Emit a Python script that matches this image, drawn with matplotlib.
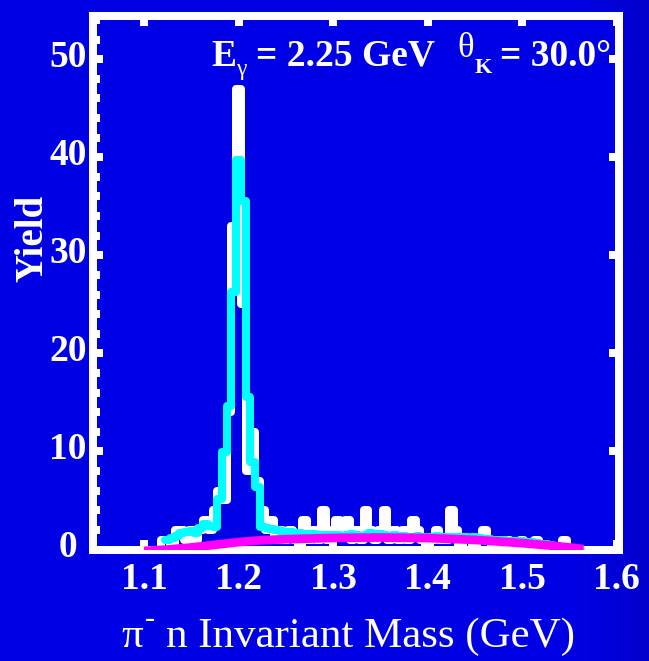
import numpy as np
import matplotlib.pyplot as plt
from matplotlib.ticker import MultipleLocator
from matplotlib.transforms import ScaledTranslation

W, H, DPI = 649, 661, 100

# measured pi- n spectrum, 5 MeV bins starting at 1.1025 GeV
bin_lo = 1.1025
bin_width = 0.005
data_counts = [
    0, 0, 0, 1, 1, 0, 2, 2, 1, 2,        # 1.105 - 1.150
    1, 2, 3, 2, 4, 6, 5, 14, 33, 47,     # 1.155 - 1.200
    25, 8, 12, 7, 4, 2, 3, 1, 2, 1,      # 1.205 - 1.250
    2, 1, 0, 3, 1, 2, 1, 4, 1, 2,        # 1.255 - 1.300
    3, 2, 3, 1, 2, 1, 4, 2, 1, 2,        # 1.305 - 1.350
    4, 1, 2, 1, 2, 1, 3, 2, 1, 0,        # 1.355 - 1.400
    1, 2, 1, 1, 4, 2, 0, 1, 1, 0,        # 1.405 - 1.450
    1, 2, 1, 0, 1, 0, 1, 0, 0, 1,        # 1.455 - 1.500
    0, 0, 1, 0, 0, 0, 0, 0, 1, 0,        # 1.505 - 1.550
    0, 0, 0, 0, 0,                       # 1.555 - 1.575
]

# simulated sigma0 + background, same binning, starting at 1.1225 GeV
fit_lo = 1.1225
fit_total = [
    1.0, 1.2, 1.4, 1.7, 1.8, 1.9, 1.7, 2.2, 2.6, 2.4,      # 1.125 - 1.170
    2.3, 5.1, 9.9, 14.6, 26.3, 39.7, 35.5, 15.6, 8.9, 6.4,  # 1.175 - 1.220
    2.3, 2.2, 2.1, 2.0, 1.9, 1.8, 1.8, 1.7, 1.7, 1.6,      # 1.225 - 1.270
    1.6, 1.6, 1.5, 1.5, 1.5, 1.5, 1.5, 1.4, 1.5, 1.6,      # 1.275 - 1.320
    1.5, 1.4, 1.5, 1.7, 1.6, 1.6, 1.5, 1.4, 1.5, 1.4,      # 1.325 - 1.370
    1.4, 1.3, 1.3, 1.4, 1.3, 1.3, 1.3, 1.4, 1.3, 1.3,      # 1.375 - 1.420
    1.3, 1.3, 1.3, 1.3, 1.2, 1.3, 1.2, 1.1, 1.1, 1.0,      # 1.425 - 1.470
    1.0, 1.0, 0.9, 0.9, 0.9, 0.9, 0.8, 0.8, 0.7, 0.6,      # 1.475 - 1.520
    0.6, 0.5, 0.4, 0.3, 0.3, 0.2, 0.1, 0.0,                # 1.525 - 1.560
]

# smooth phase-space background
bg_mass = [1.100, 1.125, 1.150, 1.175, 1.200, 1.225, 1.250, 1.300,
           1.350, 1.400, 1.450, 1.500, 1.535, 1.565]
bg_yield = [-0.15, 0.0, 0.2, 0.48, 0.75, 0.95, 1.05, 1.18,
            1.22, 1.17, 0.98, 0.65, 0.36, 0.05]

x_ticks = [1.1, 1.2, 1.3, 1.4, 1.5, 1.6]
y_ticks = [0, 10, 20, 30, 40, 50]

LW = 5.76  # 8 px at 100 dpi
serif = 'Liberation Serif'
blue = '#0000e6'


def ftext(x, y, s, **kw):
    return fig.text(x / W, 1 - y / H, s, color='white', family=serif, **kw)


fig = plt.figure(figsize=(W / DPI, H / DPI), dpi=DPI)

# blue backdrop, darker along the right margin
back = fig.add_axes([0, 0, 1, 1], zorder=-10)
shade = np.clip((np.linspace(0, 1, 649) - 0.88) / 0.12, 0, 1)
rgb = np.zeros((2, 649, 3))
rgb[..., 2] = (0.90 - 0.10 * shade)[None, :]
back.imshow(rgb, aspect='auto', extent=[0, 1, 0, 1])
back.set_axis_off()

ax = fig.add_axes([93 / W, 1 - 549.5 / H, (619 - 93) / W, (549.5 - 16) / H])
ax.set_facecolor(blue)

edges = bin_lo + bin_width * np.arange(len(data_counts) + 1)
fit_edges = fit_lo + bin_width * np.arange(len(fit_total) + 1)

hist = ax.stairs(data_counts, edges, baseline=None, color='white', lw=LW, zorder=3)
fit = ax.stairs(fit_total, fit_edges, baseline=None, color='#00ffff', lw=LW, zorder=4)
for p in (hist, fit):
    p.set_joinstyle('round')
    p.set_capstyle('round')
ax.plot(bg_mass, bg_yield, color='#ff00ff', lw=6.3, solid_capstyle='butt', zorder=5)

ax.set_xlim(1.0460, 1.6026)
ax.set_ylim(0, 54.4)

for s in ax.spines.values():
    s.set_color('white')
    s.set_linewidth(LW)
    s.set_zorder(2)

ax.set_xticks(x_ticks)
ax.set_yticks(y_ticks)
ax.yaxis.set_minor_locator(MultipleLocator(2))
ax.tick_params(which='both', direction='in', color='white', width=LW,
               top=True, right=True)
ax.tick_params(which='major', length=7.5)
ax.tick_params(axis='y', which='minor', length=5, right=False)
ax.tick_params(axis='x', pad=9)
ax.tick_params(axis='y', pad=18)
for lbl in ax.get_xticklabels() + ax.get_yticklabels():
    lbl.set_family(serif)
    lbl.set_fontweight('bold')
    lbl.set_fontsize(27)
    lbl.set_color('white')
lift = ScaledTranslation(0, 6 / DPI, fig.dpi_scale_trans)
for t in ax.yaxis.get_major_ticks():
    t.label1.set_horizontalalignment('center')
    t.label1.set_transform(t.label1.get_transform() + lift)

# axis titles
ftext(33, 238, 'Yield', fontsize=28, fontweight='bold', rotation=90,
      ha='center', va='center')
ftext(121, 647, 'π', fontsize=31, ha='left', va='baseline')
ftext(145, 627, '-', fontsize=22, ha='left', va='baseline')
ftext(166, 647, 'n Invariant Mass (GeV)', fontsize=31, ha='left', va='baseline')

# beam energy and kaon angle
ftext(211, 66, 'E', fontsize=27, fontweight='bold', ha='left', va='baseline')
ftext(236, 75, 'γ', fontsize=17, ha='left', va='baseline')
ftext(256, 66, '= 2.25 GeV', fontsize=27, fontweight='bold', ha='left', va='baseline')
ftext(457, 57, 'θ', fontsize=25, ha='left', va='baseline')
ftext(475, 73, 'K', fontsize=16, fontweight='bold', ha='left', va='baseline')
ftext(500, 66, '= 30.0°', fontsize=27, fontweight='bold', ha='left', va='baseline')

fig.savefig('out.png', dpi=DPI)
